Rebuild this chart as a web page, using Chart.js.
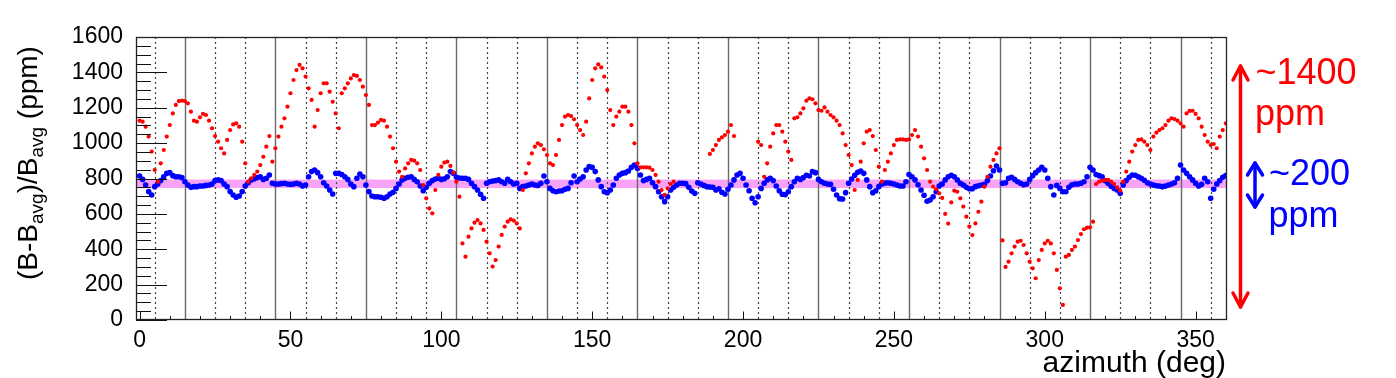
<!DOCTYPE html>
<html><head><meta charset="utf-8">
<script src="https://cdn.jsdelivr.net/npm/chart.js@4.4.1/dist/chart.umd.min.js"></script>
<style>html,body{margin:0;padding:0;background:#fff;overflow:hidden}canvas{display:block}</style>
</head><body>
<canvas id="c" width="1396" height="378"></canvas>
<script>
// azimuth (deg), one reading per degree
const azimuth = [0,1,2,3,4,5,6,7,8,9,10,11,12,13,14,15,16,17,18,19,20,21,22,23,24,25,26,27,28,29,30,31,32,33,34,35,36,37,38,39,40,41,42,43,44,45,46,47,48,49,50,51,52,53,54,55,56,57,58,59,60,61,62,63,64,65,66,67,68,69,70,71,72,73,74,75,76,77,78,79,80,81,82,83,84,85,86,87,88,89,90,91,92,93,94,95,96,97,98,99,100,101,102,103,104,105,106,107,108,109,110,111,112,113,114,115,116,117,118,119,120,121,122,123,124,125,126,127,128,129,130,131,132,133,134,135,136,137,138,139,140,141,142,143,144,145,146,147,148,149,150,151,152,153,154,155,156,157,158,159,160,161,162,163,164,165,166,167,168,169,170,171,172,173,174,175,176,177,178,179,180,181,182,183,184,185,186,187,188,189,190,191,192,193,194,195,196,197,198,199,200,201,202,203,204,205,206,207,208,209,210,211,212,213,214,215,216,217,218,219,220,221,222,223,224,225,226,227,228,229,230,231,232,233,234,235,236,237,238,239,240,241,242,243,244,245,246,247,248,249,250,251,252,253,254,255,256,257,258,259,260,261,262,263,264,265,266,267,268,269,270,271,272,273,274,275,276,277,278,279,280,281,282,283,284,285,286,287,288,289,290,291,292,293,294,295,296,297,298,299,300,301,302,303,304,305,306,307,308,309,310,311,312,313,314,315,316,317,318,319,320,321,322,323,324,325,326,327,328,329,330,331,332,333,334,335,336,337,338,339,340,341,342,343,344,345,346,347,348,349,350,351,352,353,354,355,356,357,358,359,360];

// red series (ppm)
const redPpm = [
1127,1121,1093,1037,952,848,782,886,961,1037,
1102,1168,1216,1238,1240,1238,1225,1178,1127,1121,
1146,1165,1159,1127,1084,1040,1008,971,942,1018,
1074,1106,1112,1093,1008,886,782,801,820,839,
876,923,980,1040,895,971,1037,1093,1140,1206,
1282,1357,1413,1442,1423,1376,1310,1244,1093,1187,
1282,1338,1338,1291,1234,1168,1084,1282,1310,1338,
1366,1385,1380,1357,1319,1272,1216,1102,1102,1116,
1131,1127,1093,1037,971,895,839,810,857,886,
905,901,886,848,763,688,631,603,735,820,
867,890,895,871,833,782,697,433,358,471,
518,550,565,546,509,443,377,302,339,415,
481,528,556,569,562,546,518,735,829,886,
942,980,999,989,965,933,886,876,933,1018,
1102,1150,1159,1153,1135,1102,1074,1046,1121,1253,
1357,1423,1445,1428,1376,1300,1187,1102,1150,1178,
1206,1206,1178,1102,999,886,863,863,863,861,
848,820,782,735,707,744,769,782,null,null,
null,null,null,null,null,null,null,null,null,939,
961,989,1018,1033,1046,1065,1102,1040,null,null,
null,null,null,null,null,1008,989,810,886,980,
1055,1102,1102,1065,1008,952,905,1140,1146,1168,
1197,1240,1253,1248,1225,1187,1183,1202,1178,1159,
1146,1127,1102,1055,989,933,876,735,792,895,
999,1065,1074,1040,961,867,782,848,895,942,
989,1018,1021,1021,1018,1021,1046,1074,1037,980,
914,848,782,754,739,716,690,600,545,665,
731,725,688,641,584,528,480,546,612,669,
754,810,867,905,942,971,450,300,330,377,
415,443,448,424,377,330,292,236,339,396,
433,448,433,377,283,179,85,358,368,396,
415,452,486,513,522,524,556,769,782,788,
792,792,782,769,750,731,782,839,895,952,
989,1018,1021,1008,989,961,1037,1059,1074,1084,
1102,1127,1140,1136,1127,1112,1093,1168,1182,1183,
1165,1140,1093,1046,1008,989,995,971,1037,1074,
1112];

// blue series (ppm)
const bluePpm = [
814,795,763,726,707,754,769,788,810,829,
833,816,810,810,805,782,763,750,754,754,
758,758,761,763,769,788,792,788,769,754,
726,707,694,701,726,758,776,792,799,805,
810,795,801,820,773,769,769,771,773,769,
767,769,773,769,758,763,810,839,848,833,
810,776,758,735,712,829,829,823,810,795,
769,754,801,825,810,763,726,701,697,697,
694,688,697,712,722,744,769,792,801,807,
810,795,782,758,731,750,773,788,797,801,
795,799,810,839,829,807,803,801,801,795,
773,754,735,711,688,773,782,786,788,792,
782,773,795,782,769,773,744,754,758,763,
769,763,761,773,814,782,744,731,725,729,
731,739,744,776,814,782,797,810,848,867,
863,839,792,754,725,720,735,763,801,820,
829,833,842,863,876,857,820,788,795,801,
776,754,725,697,669,697,735,750,763,773,
773,771,750,729,716,776,769,761,754,752,
750,735,742,722,712,739,763,792,820,829,
801,763,731,688,663,697,744,773,792,801,
788,758,731,711,709,725,754,782,801,795,
805,818,814,839,833,795,782,773,769,767,
739,707,686,684,720,773,797,818,835,842,
829,792,754,720,731,754,769,774,776,773,
769,763,758,758,782,823,810,792,765,735,
705,671,678,697,725,758,769,792,810,818,
810,792,773,763,750,742,742,754,759,763,
767,788,814,844,871,848,773,776,801,807,
795,782,773,765,769,795,816,833,848,863,
848,801,754,707,761,744,725,725,750,765,
769,769,773,782,810,863,848,823,816,810,
788,773,756,744,735,716,763,788,807,820,
818,810,801,790,776,769,763,759,758,754,
758,763,769,776,801,876,848,829,810,792,
773,758,767,801,782,688,739,769,788,807,
816];

const xRange = [-1.2, 360.4];
const yRange = [0, 1600];
const xTickStep = 50;
const yTickStep = 200;
const bandPpm = [746, 794];
const yokeLines = [15,45,75,105,135,165,195,225,255,285,315,345];
const poleLines = [5,25,35,55,65,85,95,115,125,145,155,175,185,205,215,235,245,265,275,295,305,325,335,355];

const decor = {
  id: 'decor',
  beforeDatasetsDraw(chart) {
    const {ctx, chartArea: a, scales: {x, y}} = chart;
    ctx.save();
    const yt = y.getPixelForValue(bandPpm[1]), yb = y.getPixelForValue(bandPpm[0]);
    ctx.fillStyle = '#f7a3f7';
    ctx.fillRect(a.left, yt, a.right - a.left, yb - yt);
    ctx.strokeStyle = '#444'; ctx.lineWidth = 1.2; ctx.setLineDash([2, 3]);
    for (const v of poleLines) {
      const px = Math.round(x.getPixelForValue(v)) + 0.5;
      ctx.beginPath(); ctx.moveTo(px, a.top); ctx.lineTo(px, a.bottom); ctx.stroke();
    }
    ctx.setLineDash([]); ctx.strokeStyle = '#6a6a6a'; ctx.lineWidth = 1.4;
    for (const v of yokeLines) {
      const px = Math.round(x.getPixelForValue(v)) + 0.5;
      ctx.beginPath(); ctx.moveTo(px, a.top); ctx.lineTo(px, a.bottom); ctx.stroke();
    }
    ctx.restore();
  },
  afterDatasetsDraw(chart) {
    const {ctx, chartArea: a, scales: {x, y}} = chart;
    ctx.save();
    ctx.strokeStyle = '#111'; ctx.lineWidth = 1;
    for (let v = yRange[0]; v <= yRange[1]; v += 50) {
      const py = Math.round(y.getPixelForValue(v)) + 0.5;
      const len = (v % yTickStep === 0) ? 31 : 15;
      ctx.beginPath(); ctx.moveTo(a.left, py); ctx.lineTo(a.left + len, py); ctx.stroke();
    }
    for (let v = 0; v <= 360; v += 10) {
      const px = Math.round(x.getPixelForValue(v)) + 0.5;
      const len = (v % xTickStep === 0) ? 8.5 : 4;
      ctx.beginPath(); ctx.moveTo(px, a.bottom); ctx.lineTo(px, a.bottom - len); ctx.stroke();
    }
    ctx.lineWidth = 1.3; ctx.strokeStyle = '#222';
    ctx.strokeRect(a.left + 0.5, a.top + 0.5, a.right - a.left - 1, a.bottom - a.top - 1);
    ctx.restore();
  },
  afterDraw(chart) {
    const {ctx} = chart;
    ctx.save();
    ctx.fillStyle = '#000';
    ctx.font = '30px "Liberation Sans", Arial, sans-serif';
    ctx.textAlign = 'right'; ctx.textBaseline = 'alphabetic';
    ctx.fillText('azimuth (deg)', 1226, 372);
    ctx.save();
    ctx.translate(37, 280);
    ctx.rotate(-Math.PI / 2);
    ctx.textAlign = 'left';
    const big = '28px "Liberation Sans", Arial, sans-serif';
    const small = '19px "Liberation Sans", Arial, sans-serif';
    const parts = [['(B-B', big, 0], ['avg', small, 6], [')/B', big, 0], ['avg', small, 6], [' (ppm)', big, 0]];
    let cx = 0;
    for (const [t, f, dy] of parts) {
      ctx.font = f; ctx.fillText(t, cx, dy); cx += ctx.measureText(t).width;
    }
    ctx.restore();
    const arrow = (xx, y1, y2, col, hw, hl, lw) => {
      ctx.strokeStyle = col; ctx.lineWidth = lw; ctx.lineCap = 'round'; ctx.lineJoin = 'round';
      ctx.beginPath(); ctx.moveTo(xx, y1); ctx.lineTo(xx, y2); ctx.stroke();
      ctx.beginPath(); ctx.moveTo(xx - hw, y1 + hl); ctx.lineTo(xx, y1); ctx.lineTo(xx + hw, y1 + hl); ctx.stroke();
      ctx.beginPath(); ctx.moveTo(xx - hw, y2 - hl); ctx.lineTo(xx, y2); ctx.lineTo(xx + hw, y2 - hl); ctx.stroke();
    };
    arrow(1240.5, 66, 307, '#ff0000', 7.5, 14, 3.5);
    arrow(1255, 163, 207, '#0000ff', 7.5, 12, 3.5);
    ctx.font = '36px "Liberation Sans", Arial, sans-serif';
    ctx.textAlign = 'left';
    ctx.fillStyle = '#ff0000';
    ctx.fillText('~1400', 1255.5, 84);
    ctx.fillText('ppm', 1255, 125);
    ctx.fillStyle = '#0000ff';
    ctx.fillText('~200', 1269, 184.5);
    ctx.fillText('ppm', 1268.5, 227);
    ctx.restore();
  }
};

const tickFont = {family: '"Liberation Sans", Arial, sans-serif', size: 23};
const plainLabel = (v) => String(v);

new Chart(document.getElementById('c').getContext('2d'), {
  type: 'scatter',
  data: {
    datasets: [
      {label: 'red', data: azimuth.map((a, i) => ({x: a, y: redPpm[i]})),
       pointRadius: 2.1, pointBackgroundColor: '#ff0000', pointBorderWidth: 0, showLine: false},
      {label: 'blue', data: azimuth.map((a, i) => ({x: a, y: bluePpm[i]})),
       pointRadius: 2.8, pointBackgroundColor: '#0000ff', pointBorderWidth: 0, showLine: false}
    ]
  },
  options: {
    responsive: false, animation: false, devicePixelRatio: 1,
    layout: {padding: {left: 0, right: 169, top: 37, bottom: 0}},
    plugins: {legend: {display: false}, tooltip: {enabled: false}},
    elements: {point: {hoverRadius: 0}},
    scales: {
      x: {type: 'linear', min: xRange[0], max: xRange[1],
          grid: {display: false, drawTicks: false}, border: {display: false},
          ticks: {stepSize: xTickStep, includeBounds: false, padding: 7, font: tickFont, color: '#000', maxRotation: 0, autoSkip: false, callback: plainLabel},
          afterFit(s) { s.height = 58; }},
      y: {type: 'linear', min: yRange[0], max: yRange[1],
          grid: {display: false, drawTicks: false}, border: {display: false},
          ticks: {stepSize: yTickStep, padding: 13, font: tickFont, color: '#000', callback: plainLabel},
          afterFit(s) { s.width = 136; }}
    }
  },
  plugins: [decor]
});
</script>
</body></html>
